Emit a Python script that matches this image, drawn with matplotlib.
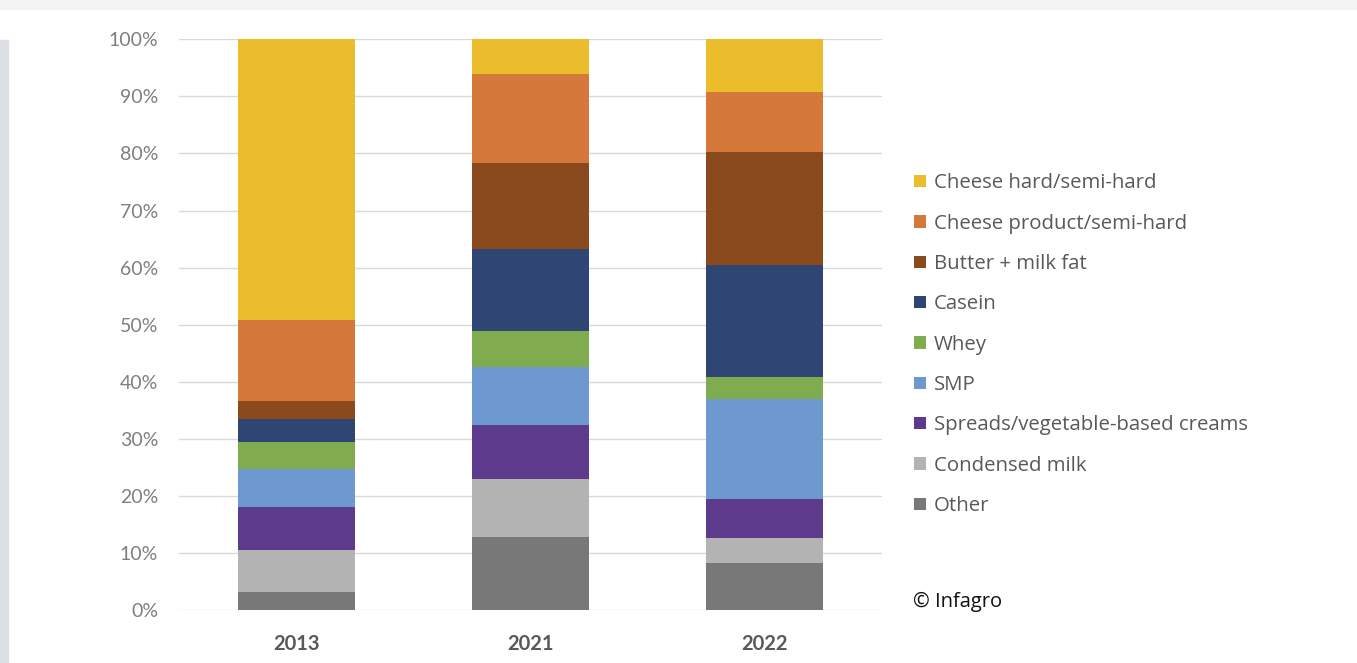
import numpy as np
import matplotlib.pyplot as plt
from matplotlib.patches import Rectangle
from matplotlib.ticker import PercentFormatter

years = ["2013", "2021", "2022"]
categories = ["Other", "Condensed milk", "Spreads/vegetable-based creams", "SMP", "Whey",
              "Casein", "Butter + milk fat", "Cheese product/semi-hard", "Cheese hard/semi-hard"]
other = [3.2, 12.8, 8.2]
condensed = [7.4, 10.2, 4.5]
spreads = [7.4, 9.4, 6.8]
smp = [6.7, 10.1, 17.4]
whey = [4.8, 6.3, 4.0]
casein = [4.0, 14.4, 19.6]
butter = [3.2, 15.1, 19.8]
cheese_product = [14.1, 15.7, 10.5]
cheese_hard = [49.2, 6.0, 9.2]
colors = ["#787878", "#b3b3b3", "#5d3a8b", "#6d98d0", "#80ab4e",
          "#2f4574", "#8b4a1e", "#d4793a", "#ebbd2c"]

series = [other, condensed, spreads, smp, whey, casein, butter, cheese_product, cheese_hard]

plt.rcParams['font.family'] = ['Lato', 'DejaVu Sans']
fig = plt.figure(figsize=(13.57, 6.63), dpi=100)

# screenshot frame shadow
fig.patches.append(Rectangle((0, 0), 8 / 1357, 623 / 663, transform=fig.transFigure,
                             color="#dcdfe3", zorder=0))
fig.patches.append(Rectangle((0, 654 / 663), 1, 9 / 663, transform=fig.transFigure,
                             color="#f3f3f3", zorder=0))

ax = fig.add_axes([179 / 1357, 53 / 663, 703 / 1357, 570.7 / 663])
x = np.arange(len(years))
bottom = np.zeros(len(years))
handles = []
for vals, name, c in zip(series, categories, colors):
    h = ax.bar(x, vals, 0.5, bottom=bottom, color=c, label=name, zorder=3)
    handles.append(h)
    bottom += np.array(vals)

ax.set_xlim(-0.5, 2.5)
ax.set_ylim(0, 100)
ax.set_yticks(np.arange(0, 101, 10))
ax.yaxis.set_major_formatter(PercentFormatter(decimals=0))
ax.grid(axis="y", color="#d9d9d9", linewidth=1, zorder=0)
for s in ax.spines.values():
    s.set_visible(False)
ax.tick_params(length=0)
ax.tick_params(axis="y", labelsize=14, labelcolor="#7f7f7f", pad=15)
ax.set_xticks(x)
ax.set_xticklabels(years, fontsize=14.5, fontweight="bold", color="#595959")
ax.tick_params(axis="x", pad=17)

leg = fig.legend(handles[::-1], categories[::-1], loc="upper left",
                 bbox_to_anchor=(896 / 1357, 1 - 155 / 663), frameon=False,
                 prop={"family": ["Open Sans", "DejaVu Sans"], "size": 14.7},
                 labelcolor="#595959", handlelength=0.55, handleheight=0.55,
                 handletextpad=0.4, labelspacing=0.995)

fig.text(913 / 1357, 1 - 602 / 663, "© Infagro", fontsize=14.5, color="#111111", va="center",
         family=["Open Sans", "DejaVu Sans"])

fig.savefig("out.png", dpi=100, facecolor="white")
